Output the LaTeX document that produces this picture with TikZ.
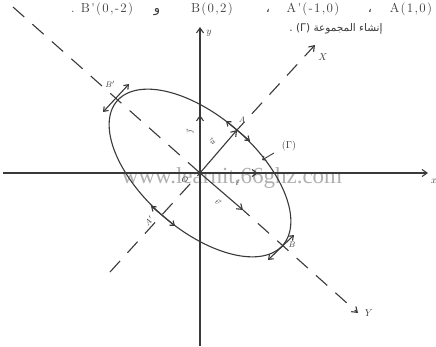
\documentclass[tikz,border=0pt]{standalone}
\usepackage{fontspec}
\newfontfamily\arabicfont[Script=Arabic]{DejaVu Sans}
\newfontfamily\wmfont{Liberation Serif}
\newfontfamily\spacedfont[LetterSpace=10]{Latin Modern Roman}
\TeXXeTstate=1
\usetikzlibrary{arrows.meta}
\definecolor{ink}{HTML}{3A3A3A}
\definecolor{wm}{HTML}{B0B0B0}
\begin{document}
\begin{tikzpicture}[x=1pt,y=-1pt,
  ink/.style={draw=ink,line width=1.1pt},
  dashline/.style={ink,dash pattern=on 15pt off 11pt},
  tip/.style={-{Straight Barb[length=5pt,width=7pt]}},
  bothtip/.style={{Straight Barb[length=4pt,width=6pt]}-{Straight Barb[length=4pt,width=6pt]}},
  lab/.style={text=ink,inner sep=0pt,font=\fontsize{10}{10}\selectfont},
  small/.style={text=ink,inner sep=0pt,font=\fontsize{8}{8}\selectfont},
  top/.style={text=ink,inner sep=0pt,anchor=base,font=\fontsize{13}{13}\spacedfont}]
\useasboundingbox (0,0) rectangle (436,346);
\fill[white] (0,0) rectangle (436,346);
% points
\coordinate (O) at (200,173);
\coordinate (xs) at (3,173); \coordinate (xe) at (428,173);
\coordinate (ys) at (200,346); \coordinate (ye) at (200,27);
\coordinate (Yf) at (13,7); \coordinate (Ye) at (358,313); \coordinate (V) at (243,210);
\coordinate (Xf) at (110,272); \coordinate (Xe) at (315,45);
\coordinate (A) at (237,130); \coordinate (Ap) at (163,216);
\coordinate (B) at (283,245); \coordinate (Bp) at (117,101);
\coordinate (I) at (258,173); \coordinate (J) at (200,115);
% watermark (under the ink)
\node[text=wm,inner sep=0pt,font=\fontsize{23}{23}\wmfont] (wmk) at (232,178) {www.learnit.66ghz.com};
% axes
\draw[ink,tip] (xs) -- (xe);
\draw[ink,tip] (ys) -- (ye);
\draw[ink,tip] (O) -- (I);
\draw[ink,tip] (O) -- (J);
% oblique axes
\draw[dashline] (Yf) -- (O);
\draw[ink,tip] (O) -- (V);
\draw[dashline,tip,dash phase=6pt] (V) -- (Ye);
\draw[dashline] (Xf) -- (O);
\draw[ink,tip] (O) -- (A);
\draw[dashline,tip,dash phase=4pt] (A) -- (Xe);
% ellipse
\draw[ink] plot[domain=0:360,samples=140,smooth cycle]
  ({200+37*cos(\x)+83*sin(\x)},{173-43*cos(\x)+72*sin(\x)});
% tangents
\coordinate (ta1) at (226,121); \coordinate (ta2) at (250,141);
\coordinate (tap1) at (151,206); \coordinate (tap2) at (175,226);
\coordinate (tb1) at (268,260); \coordinate (tb2) at (294,235);
\coordinate (tbp1) at (103,112); \coordinate (tbp2) at (129,84);
\draw[ink,bothtip] (ta1) -- (ta2);
\draw[ink,bothtip] (tap1) -- (tap2);
\draw[ink,bothtip] (tb1) -- (tb2);
\draw[ink,bothtip] (tbp1) -- (tbp2);
% Gamma label
\node[lab] (G) at (289,146) {(Γ)};
\coordinate (g1) at (274,153); \coordinate (g2) at (262,160);
\draw[ink,line width=0.9pt,-{Straight Barb[length=3pt,width=5pt]}] (g1) -- (g2);
% labels
\node[lab] (lx) at (434,181) {$x$};
\node[lab] (ly) at (209,33) {$y$};
\node[lab] (lX) at (323,57) {$X$};
\node[lab] (lY) at (369,313) {$Y$};
\node[small] (lO) at (185,180) {$O$};
\node[small] (li) at (237,183) {$\vec{\imath}$};
\node[small,rotate=90] (lj) at (190,132) {$\vec{\jmath}$};
\node[small,rotate=45] (lu) at (212,142) {$\vec{u}$};
\node[small,rotate=-40] (lv) at (218,202) {$\vec{v}$};
\node[small] (lA) at (242,120) {$A$};
\node[small,rotate=45] (lAp) at (149,221) {$A'$};
\node[small] (lB) at (292,245) {$B$};
\node[small] (lBp) at (110,84) {$B'$};
% top text
\node[top] (t1) at (73,12) {.};
\node[top] (t2) at (107,12) {B'(0,-2)};
\node[top,font=\fontsize{13}{13}\arabicfont] (t3) at (157,12) {و};
\node[top] (t4) at (212,12) {B(0,2)};
\node[top,font=\fontsize{13}{13}\arabicfont] (t5) at (268,12) {،};
\node[top] (t6) at (313,12) {A'(-1,0)};
\node[top,font=\fontsize{13}{13}\arabicfont] (t7) at (370,12) {،};
\node[top] (t8) at (411,12) {A(1,0)};
\node[text=ink,inner sep=0pt,anchor=base,font=\fontsize{10.5}{10.5}\arabicfont] (t9) at (336,31)
  {\beginR إنشاء المجموعة \beginL(Γ)\endL{} .\endR};
\end{tikzpicture}
\end{document}
